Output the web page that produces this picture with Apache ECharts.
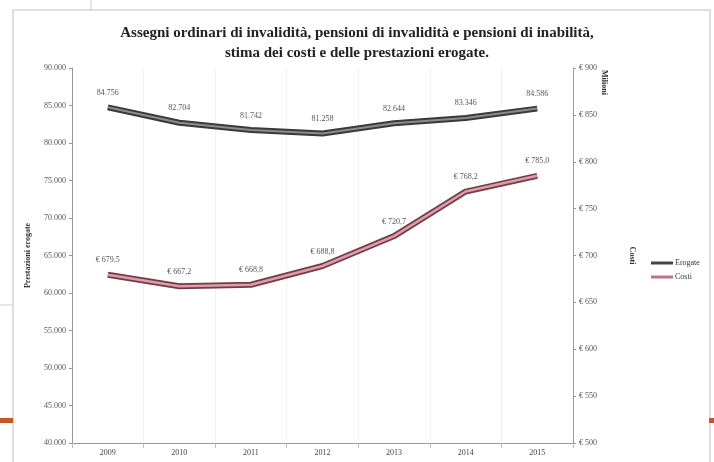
<!DOCTYPE html>
<html>
<head>
<meta charset="utf-8">
<script src="https://cdn.jsdelivr.net/npm/echarts@6/dist/echarts.min.js"></script>
<style>
  html, body { margin: 0; padding: 0; background: #fff; }
  #chart { width: 714px; height: 462px; }
</style>
</head>
<body>
<div id="chart"></div>
<script>
var anni = ['2009', '2010', '2011', '2012', '2013', '2014', '2015'];
var erogate = [84756, 82704, 81742, 81258, 82644, 83346, 84586];
var costi = [679.5, 667.2, 668.8, 688.8, 720.7, 768.2, 785.0];

var serif = 'Liberation Serif';

// formati all'italiana
function fmtMigliaia(v) {
    return String(Math.round(v)).replace(/\B(?=(\d{3})+(?!\d))/g, '.');
}
function fmtEuro(v) {
    return '\u20ac ' + v.toFixed(1).replace('.', ',');
}

var myChart = echarts.init(document.getElementById('chart'));

var option = {
    backgroundColor: '#fff',
    animation: false,
    title: {
        text: 'Assegni ordinari di invalidità, pensioni di invalidità e pensioni di inabilità,\nstima dei costi e delle prestazioni erogate.',
        left: 'center',
        top: 18,
        textStyle: {
            fontFamily: serif,
            fontWeight: 'bold',
            fontSize: 15,
            lineHeight: 20,
            color: '#222'
        }
    },
    legend: {
        orient: 'vertical',
        left: 646,
        top: 254,
        icon: 'rect',
        itemWidth: 22,
        itemHeight: 3,
        itemGap: 6,
        data: [
            { name: 'Erogate', itemStyle: { color: '#444' } },
            { name: 'Costi', itemStyle: { color: '#c07382' } }
        ],
        textStyle: { fontFamily: serif, fontSize: 8, color: '#333', padding: [0, 0, 0, -3] }
    },
    grid: { left: 72, right: 141, top: 68, bottom: 19 },
    xAxis: {
        type: 'category',
        data: anni,
        axisLine: { lineStyle: { color: '#999' } },
        axisTick: { show: true, lineStyle: { color: '#bbb' } },
        axisLabel: { fontFamily: serif, fontSize: 8, color: '#444', margin: 6 },
        splitLine: { show: true, lineStyle: { color: '#f2f2f2' } }
    },
    yAxis: [{
        type: 'value',
        min: 40000,
        max: 90000,
        interval: 5000,
        name: 'Prestazioni erogate',
        nameLocation: 'middle',
        nameRotate: 90,
        nameGap: 40,
        nameTextStyle: { fontFamily: serif, fontSize: 8, fontWeight: 'bold', color: '#333' },
        axisLine: { show: true, lineStyle: { color: '#999' } },
        axisTick: { show: true, length: 3, lineStyle: { color: '#999' } },
        axisLabel: { fontFamily: serif, fontSize: 8, color: '#555', margin: 6, formatter: fmtMigliaia },
        splitLine: { show: false }
    }, {
        type: 'value',
        min: 500,
        max: 900,
        interval: 50,
        position: 'right',
        name: 'Costi',
        nameLocation: 'middle',
        nameRotate: -90,
        nameGap: 55,
        nameTextStyle: { fontFamily: serif, fontSize: 8, fontWeight: 'bold', color: '#333' },
        axisLine: { show: true, lineStyle: { color: '#999' } },
        axisTick: { show: true, length: 3, lineStyle: { color: '#999' } },
        axisLabel: { fontFamily: serif, fontSize: 8, color: '#555', margin: 6, formatter: function (v) { return '\u20ac ' + v; } },
        splitLine: { show: false }
    }],
    graphic: [
        // cornice della slide
        { type: 'rect', shape: { x: 13, y: 10, width: 697, height: 470 }, style: { fill: 'none', stroke: '#d4d4d4', lineWidth: 1.5 }, z: -1 },
        { type: 'line', shape: { x1: 91, y1: 0, x2: 91, y2: 10 }, style: { stroke: '#ccc', lineWidth: 1 } },
        { type: 'line', shape: { x1: 0, y1: 305, x2: 13, y2: 305 }, style: { stroke: '#ccc', lineWidth: 1 } },
        { type: 'rect', shape: { x: 0, y: 418, width: 13, height: 5 }, style: { fill: '#c8542a' } },
        { type: 'rect', shape: { x: 709, y: 418, width: 5, height: 5 }, style: { fill: '#c8542a' } },
        {
            type: 'text', x: 608, y: 70, rotation: -Math.PI / 2,
            style: { text: 'Milioni', fontFamily: serif, fontSize: 8, fontWeight: 'bold', fill: '#333' }
        }
    ],
    series: [{
        name: 'ErogateBordo',
        type: 'line',
        data: erogate,
        symbol: 'none',
        silent: true,
        lineStyle: { color: '#3a3a3a', width: 6 },
        z: 2
    }, {
        name: 'Erogate',
        type: 'line',
        data: erogate,
        symbol: 'circle',
        symbolSize: 1,
        showSymbol: true,
        lineStyle: { color: '#8c8c8c', width: 2 },
        itemStyle: { color: 'rgba(0,0,0,0)' },
        label: {
            show: true,
            position: 'top',
            distance: 10,
            fontFamily: serif,
            fontSize: 8,
            color: '#555',
            formatter: function (p) { return fmtMigliaia(p.value); }
        },
        z: 3
    }, {
        name: 'CostiBordo',
        type: 'line',
        yAxisIndex: 1,
        data: costi,
        symbol: 'none',
        silent: true,
        lineStyle: { color: '#6e3d48', width: 6 },
        z: 2
    }, {
        name: 'Costi',
        type: 'line',
        yAxisIndex: 1,
        data: costi,
        symbol: 'circle',
        symbolSize: 1,
        showSymbol: true,
        lineStyle: { color: '#e39aa8', width: 2.5 },
        itemStyle: { color: 'rgba(0,0,0,0)' },
        label: {
            show: true,
            position: 'top',
            distance: 10,
            fontFamily: serif,
            fontSize: 8,
            color: '#555',
            formatter: function (p) { return fmtEuro(p.value); }
        },
        z: 3
    }]
};

myChart.setOption(option);
</script>
</body>
</html>
